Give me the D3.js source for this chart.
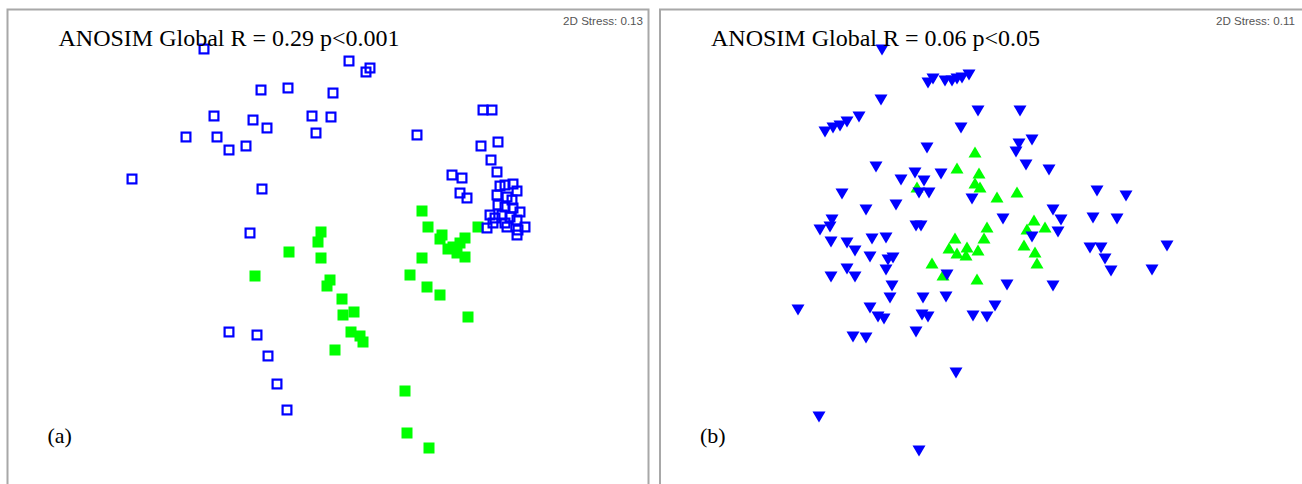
<!DOCTYPE html>
<html>
<head>
<meta charset="utf-8">
<script src="https://cdn.jsdelivr.net/npm/d3@7"></script>
<style>
  html, body { margin: 0; padding: 0; background: #fff; }
  svg { display: block; }
</style>
</head>
<body>
<svg id="chart" width="1302" height="484"></svg>
<script>
// NMDS ordination scores (MDS1, MDS2) per sample, grouped by factor level.

// Panel (a): ordination of site groups
const a_group1 = [
  [-1.24, 1.91], [-0.67, 1.50], [-0.40, 1.52], [0.05, 1.47], [-1.14, 1.24],
  [-0.75, 1.20], [-0.61, 1.12], [-0.16, 1.24], [0.03, 1.23], [-0.12, 1.07],
  [-1.42, 1.03], [-1.11, 1.03], [-0.99, 0.90], [-0.82, 0.94], [-1.96, 0.61],
  [-0.66, 0.51], [-0.78, 0.07], [0.21, 1.79], [0.42, 1.72], [0.38, 1.68],
  [0.89, 1.05], [1.55, 1.30], [1.64, 1.30], [1.53, 0.94], [1.70, 0.98],
  [1.63, 0.80], [1.69, 0.68], [1.24, 0.65], [1.34, 0.62], [1.32, 0.47],
  [1.39, 0.42], [1.72, 0.54], [1.77, 0.55], [1.85, 0.56], [1.89, 0.49],
  [1.69, 0.45], [1.79, 0.43], [1.84, 0.40], [1.70, 0.35], [1.77, 0.33],
  [1.85, 0.32], [1.92, 0.28], [1.62, 0.25], [1.67, 0.22], [1.74, 0.25],
  [1.82, 0.23], [1.89, 0.20], [1.59, 0.12], [1.65, 0.17], [1.79, 0.13],
  [1.90, 0.10], [1.97, 0.13], [1.89, 0.05], [1.77, 0.17], [-0.99, -0.92],
  [-0.71, -0.95], [-0.60, -1.16], [-0.51, -1.44], [-0.41, -1.70]
];
const a_group2 = [
  [0.94, 0.29], [1.00, 0.13], [1.14, 0.05], [1.12, 0.01], [1.37, 0.02],
  [1.32, -0.03], [1.25, -0.07], [1.20, -0.09], [1.29, -0.13], [1.37, -0.17],
  [0.94, -0.18], [0.82, -0.35], [0.99, -0.47], [1.12, -0.55], [1.40, -0.77],
  [1.50, 0.13], [-0.07, 0.08], [-0.10, -0.02], [-0.39, -0.12], [-0.07, -0.18],
  [-0.73, -0.36], [0.02, -0.40], [-0.01, -0.46], [0.14, -0.59], [0.15, -0.75],
  [0.26, -0.72], [0.23, -0.92], [0.32, -0.96], [0.35, -1.02], [0.07, -1.10],
  [0.77, -1.51], [0.79, -1.93], [1.01, -2.08]
];

// Panel (b): ordination of season groups
const b_group1 = [
  [-0.98, 1.90], [-0.52, 1.57], [-0.47, 1.61], [-0.35, 1.59], [-0.28, 1.59],
  [-0.23, 1.61], [-0.18, 1.62], [-0.11, 1.65], [-0.99, 1.40], [-0.02, 1.29],
  [0.40, 1.29], [-1.55, 1.08], [-1.47, 1.12], [-1.40, 1.14], [-1.33, 1.18],
  [-1.21, 1.23], [-0.19, 1.12], [-0.53, 0.92], [-1.04, 0.73], [-0.79, 0.60],
  [-0.65, 0.67], [-0.56, 0.59], [-0.39, 0.66], [-0.61, 0.47], [-0.51, 0.47],
  [-0.08, 0.41], [-1.38, 0.46], [-0.84, 0.35], [-1.14, 0.30], [-1.48, 0.20],
  [-1.50, 0.13], [-1.60, 0.10], [-0.64, 0.14], [-0.59, 0.14], [-1.49, -0.02],
  [-1.33, -0.03], [-1.25, -0.11], [-1.08, 0.01], [-0.94, 0.02], [-1.10, -0.17],
  [-0.92, -0.20], [-0.87, -0.18], [-0.94, -0.30], [-1.33, -0.29], [-1.25, -0.37],
  [-1.49, -0.37], [-0.88, -0.46], [-0.90, -0.58], [-0.57, -0.58], [-0.34, -0.57],
  [-0.33, -0.35], [-1.82, -0.70], [-1.10, -0.68], [-1.02, -0.77], [-0.96, -0.79],
  [-0.58, -0.75], [-0.52, -0.77], [-0.64, -0.92], [-1.27, -0.97], [-1.14, -0.98],
  [-0.07, -0.76], [0.07, -0.77], [0.15, -0.66], [0.27, -0.45], [0.73, -0.46],
  [-0.24, -1.33], [-1.61, -1.77], [-0.61, -2.11], [0.52, 1.00], [0.39, 0.96],
  [0.36, 0.88], [0.46, 0.75], [0.69, 0.70], [1.17, 0.49], [1.46, 0.44],
  [0.73, 0.30], [0.23, 0.21], [0.81, 0.20], [1.13, 0.22], [1.37, 0.21],
  [0.78, 0.08], [0.52, 0.03], [1.10, -0.08], [1.21, -0.08], [1.25, -0.19],
  [1.31, -0.31], [1.72, -0.30], [1.87, -0.06]
];
const b_group2 = [
  [-0.05, 0.88], [-0.23, 0.72], [-0.01, 0.67], [-0.05, 0.57], [0.00, 0.53],
  [0.17, 0.43], [0.37, 0.48], [-0.63, 0.53], [0.07, 0.13], [0.54, 0.20],
  [0.47, 0.11], [0.65, 0.13], [-0.25, 0.02], [0.04, 0.02], [-0.31, -0.08],
  [-0.23, -0.13], [-0.13, -0.07], [-0.14, -0.15], [-0.02, -0.10], [0.44, -0.05],
  [0.55, -0.12], [0.57, -0.23], [-0.48, -0.23], [-0.37, -0.35], [-0.03, -0.39]
];

// Panel annotations
const titles = ["ANOSIM Global R = 0.29 p<0.001", "ANOSIM Global R = 0.06 p<0.05"];
const stressLabels = ["2D Stress: 0.13", "2D Stress: 0.11"];
const panelLabels = ["(a)", "(b)"];

const BLUE = "#0000ff";
const GREEN = "#00ff00";

const svg = d3.select("#chart");

// Panel frames; they run past the bottom (and right) edge of the view
const panels = [
  { x0: 8, x1: 648, frameX: 7.5, frameW: 641, title: titles[0], stress: stressLabels[0], label: panelLabels[0] },
  { x0: 660, x1: 1300, frameX: 660, frameW: 660, title: titles[1], stress: stressLabels[1], label: panelLabels[1] }
];

panels.forEach(p => {
  p.x = d3.scaleLinear().domain([-3.2, 3.2]).range([p.x0, p.x1]);
  p.y = d3.scaleLinear().domain([-2.4, 2.4]).range([480, 0]);
  p.g = svg.append("g");
  p.g.append("rect")
    .attr("x", p.frameX).attr("y", 9.5)
    .attr("width", p.frameW).attr("height", 500)
    .attr("fill", "#fff")
    .attr("stroke", "#a8a8a8").attr("stroke-width", 2);
});

// Marker geometry
const sq = 11;
const triW = 13, triH = 11;
const triDown = `M${-triW / 2},${-triH / 2}L${triW / 2},${-triH / 2}L0,${triH / 2}Z`;
const triUp = `M${-triW / 2},${triH / 2}L${triW / 2},${triH / 2}L0,${-triH / 2}Z`;

// Panel (a): filled green squares, then open blue squares
const pa = panels[0];
pa.g.append("g").selectAll("rect").data(a_group2).join("rect")
  .attr("x", d => pa.x(d[0]) - sq / 2)
  .attr("y", d => pa.y(d[1]) - sq / 2)
  .attr("width", sq).attr("height", sq)
  .attr("fill", GREEN);
pa.g.append("g").selectAll("rect").data(a_group1).join("rect")
  .attr("x", d => pa.x(d[0]) - (sq - 2.2) / 2)
  .attr("y", d => pa.y(d[1]) - (sq - 2.2) / 2)
  .attr("width", sq - 2.2).attr("height", sq - 2.2)
  .attr("fill", "none")
  .attr("stroke", BLUE).attr("stroke-width", 2.2);

// Panel (b): green up-triangles, blue down-triangles
const pb = panels[1];
pb.g.append("g").selectAll("path").data(b_group2).join("path")
  .attr("d", triUp)
  .attr("transform", d => `translate(${pb.x(d[0])},${pb.y(d[1])})`)
  .attr("fill", GREEN);
pb.g.append("g").selectAll("path").data(b_group1).join("path")
  .attr("d", triDown)
  .attr("transform", d => `translate(${pb.x(d[0])},${pb.y(d[1])})`)
  .attr("fill", BLUE);

// Text annotations
panels.forEach(p => {
  p.g.append("text")
    .attr("x", p.frameX + 51).attr("y", 46)
    .attr("font-family", "'Liberation Serif', 'Times New Roman', serif")
    .attr("font-size", 24)
    .attr("fill", "#000")
    .text(p.title);
  p.g.append("text")
    .attr("x", p.x1 - 5).attr("y", 25)
    .attr("text-anchor", "end")
    .attr("font-family", "'Liberation Sans', Arial, sans-serif")
    .attr("font-size", 11.6)
    .attr("fill", "#555")
    .text(p.stress);
  p.g.append("text")
    .attr("x", p.frameX + 40).attr("y", 443)
    .attr("font-family", "'Liberation Serif', 'Times New Roman', serif")
    .attr("font-size", 22)
    .attr("fill", "#000")
    .text(p.label);
});
</script>
</body>
</html>
